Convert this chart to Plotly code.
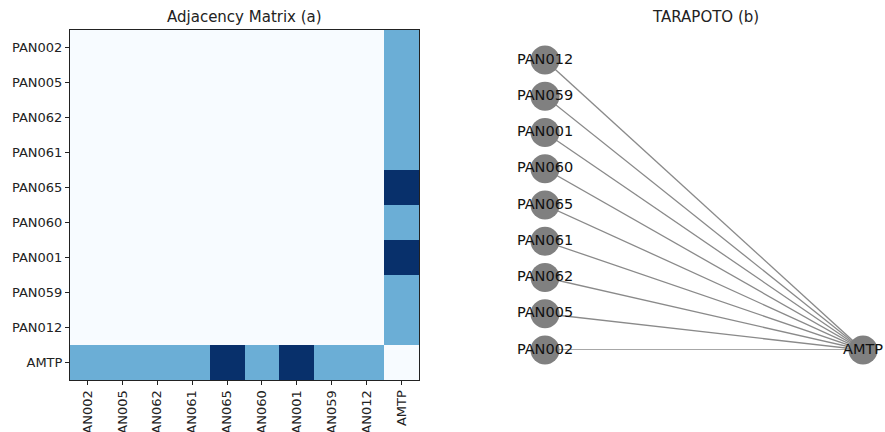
import plotly.graph_objects as go

# ---- data ----
nodes = ["PAN002", "PAN005", "PAN062", "PAN061", "PAN065", "PAN060", "PAN001", "PAN059", "PAN012", "AMTP"]
hub = "AMTP"
# edge weights between hub and each PAN node (same order as nodes[:-1])
weights = [1, 1, 1, 1, 2, 1, 2, 1, 1]
graph_title = "TARAPOTO (b)"
matrix_title = "Adjacency Matrix (a)"

# build symmetric adjacency matrix
n = len(nodes)
mat = [[0] * n for _ in range(n)]
for i, w in enumerate(weights):
    mat[i][n - 1] = w
    mat[n - 1][i] = w

W, H = 885, 432
def px_x(a, b):
    return [a / W, b / W]
def px_y(top, bottom):
    return [1 - bottom / H, 1 - top / H]

font_family = "DejaVu Sans"
fig = go.Figure()

fig.add_trace(go.Heatmap(
    z=mat, x=nodes, y=nodes,
    colorscale=[[0, "#f7fbff"], [0.5, "#6baed6"], [1, "#08306b"]],
    zmin=0, zmax=2, showscale=False, xaxis="x", yaxis="y",
    hoverinfo="skip",
))

# ---- network layout: PAN nodes stacked on the left, hub on the right ----
pan = nodes[:-1]
pos = {name: (0.0, float(i)) for i, name in enumerate(pan)}
pos[hub] = (1.0, 0.0)

ex, ey = [], []
for name in pan:
    ex += [pos[name][0], pos[hub][0], None]
    ey += [pos[name][1], pos[hub][1], None]
fig.add_trace(go.Scatter(
    x=ex, y=ey, mode="lines", line=dict(color="#8a8a8a", width=1.3),
    xaxis="x2", yaxis="y2", hoverinfo="skip", cliponaxis=False, showlegend=False,
))
all_nodes = pan + [hub]
fig.add_trace(go.Scatter(
    x=[pos[k][0] for k in all_nodes], y=[pos[k][1] for k in all_nodes],
    mode="markers+text", text=all_nodes, textposition="middle center",
    textfont=dict(family=font_family, size=14.5, color="#111111"),
    marker=dict(size=29, color="#808080", line=dict(width=0)),
    xaxis="x2", yaxis="y2", hoverinfo="skip", cliponaxis=False, showlegend=False,
))

tickfont = dict(family=font_family, size=13, color="#222222")
fig.update_layout(
    width=W, height=H,
    margin=dict(l=0, r=0, t=0, b=0),
    paper_bgcolor="white", plot_bgcolor="white",
    template="none",
    showlegend=False,
    xaxis=dict(domain=px_x(70, 419), type="category", categoryorder="array", categoryarray=nodes,
               tickangle=-90, ticks="outside", ticklen=4, tickwidth=1, tickcolor="#222",
               showline=True, linecolor="#222", linewidth=1, mirror=True,
               showgrid=False, zeroline=False, automargin=False, tickfont=tickfont,
               anchor="y"),
    yaxis=dict(domain=px_y(30, 380), type="category", categoryorder="array", categoryarray=nodes,
               autorange="reversed", ticks="outside", ticklen=4, tickwidth=1, tickcolor="#222",
               showline=True, linecolor="#222", linewidth=1, mirror=True,
               showgrid=False, zeroline=False, automargin=False, tickfont=tickfont,
               anchor="x"),
    xaxis2=dict(domain=px_x(545, 863), range=[0, 1], visible=False, anchor="y2"),
    yaxis2=dict(domain=px_y(60, 350), range=[0, len(pan) - 1], visible=False, anchor="x2"),
    annotations=[
        dict(text=matrix_title, x=244.5 / W, y=1 - 17 / H, xref="paper", yref="paper",
             showarrow=False, xanchor="center", yanchor="middle",
             font=dict(family=font_family, size=15, color="#222")),
        dict(text=graph_title, x=705 / W, y=1 - 17 / H, xref="paper", yref="paper",
             showarrow=False, xanchor="center", yanchor="middle",
             font=dict(family=font_family, size=15, color="#222")),
    ],
)

fig.write_html("out.html", config={"displayModeBar": False},
               post_script="document.body.style.margin='0';document.body.style.overflow='hidden';")
